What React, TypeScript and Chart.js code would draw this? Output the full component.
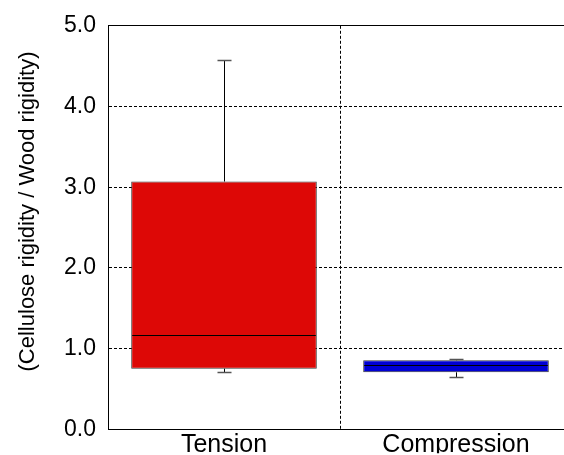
import React, { useEffect, useRef } from 'react';
import { Chart, registerables } from 'chart.js';

Chart.register(...registerables);

// ---- data ----
const categories = ['Tension', 'Compression'];
const whiskerLow = [0.71, 0.65];
const quartile1 = [0.75, 0.705];
const medians = [1.17, 0.79];
const quartile3 = [3.07, 0.855];
const whiskerHigh = [4.58, 0.87];
const boxColors = ['#DD0806', '#0000D4'];
const yTitle = '(Cellulose rigidity / Wood rigidity)';
const yMin = 0;
const yMax = 5;
const yStep = 1;

const FONT = '"Liberation Sans", Arial, Helvetica, sans-serif';

const whiskerPlugin = {
  id: 'whiskers',
  afterDatasetsDraw(chart: any) {
    const { ctx } = chart;
    const x = chart.scales.x;
    const y = chart.scales.y;
    const meta = chart.getDatasetMeta(0);
    ctx.save();
    meta.data.forEach((el: any, i: number) => {
      const cx = Math.round(x.getPixelForValue(i + 1)) + 0.5;
      const half = el.width / 2;
      const yMed = Math.round(y.getPixelForValue(medians[i])) + 0.5;
      const yQ1 = y.getPixelForValue(quartile1[i]);
      const yQ3 = y.getPixelForValue(quartile3[i]);
      const yLo = Math.round(y.getPixelForValue(whiskerLow[i])) + 0.5;
      const yHi = Math.round(y.getPixelForValue(whiskerHigh[i])) + 0.5;
      ctx.strokeStyle = '#000';
      ctx.lineWidth = 1;
      ctx.beginPath();
      ctx.moveTo(el.x - half + 1, yMed);
      ctx.lineTo(el.x + half - 1, yMed);
      ctx.moveTo(cx, yQ3);
      ctx.lineTo(cx, yHi);
      ctx.moveTo(cx, yQ1);
      ctx.lineTo(cx, yLo);
      ctx.stroke();
      ctx.strokeStyle = '#555';
      ctx.lineWidth = 1.5;
      ctx.beginPath();
      ctx.moveTo(cx - 7, yHi);
      ctx.lineTo(cx + 7, yHi);
      ctx.moveTo(cx - 7, yLo);
      ctx.lineTo(cx + 7, yLo);
      ctx.stroke();
    });
    ctx.restore();
  },
};

const titlePlugin = {
  id: 'yTitle',
  afterDraw(chart: any) {
    const { ctx, chartArea } = chart;
    ctx.save();
    ctx.font = `22px ${FONT}`;
    ctx.fillStyle = '#000';
    ctx.textAlign = 'center';
    ctx.textBaseline = 'middle';
    ctx.translate(28, (chartArea.top + chartArea.bottom) / 2 - 16);
    ctx.rotate(-Math.PI / 2);
    ctx.fillText(yTitle, 0, 0);
    ctx.restore();
  },
};

export default function App() {
  const ref = useRef<HTMLCanvasElement | null>(null);

  useEffect(() => {
    if (!ref.current) return;
    const chart = new Chart(ref.current, {
      type: 'bar',
      data: {
        datasets: [
          {
            data: categories.map((_, i) => ({ x: i + 1, y: [quartile1[i], quartile3[i]] })) as any,
            backgroundColor: boxColors,
            borderColor: '#3a3a3a',
            borderWidth: 1,
            borderSkipped: false,
            categoryPercentage: 1,
            barPercentage: 0.8,
          },
        ],
      },
      options: {
        animation: false,
        responsive: false,
        events: [],
        layout: { padding: { top: 22, left: 0, right: 0, bottom: 0 } },
        plugins: {
          legend: { display: false },
          tooltip: { enabled: false },
        },
        scales: {
          x: {
            type: 'linear',
            offset: false,
            min: 0.5,
            max: 0.5 + 456 / 232,
            afterBuildTicks: (scale: any) => {
              scale.ticks = categories.map((_, i) => ({ value: i + 1 }));
            },
            afterFit: (scale: any) => {
              scale.height = 24;
            },
            ticks: {
              color: '#000',
              padding: 1,
              autoSkip: false,
              maxRotation: 0,
              font: { family: FONT, size: 25 },
              callback: (v: any) => categories[Number(v) - 1] ?? '',
            },
            grid: {
              offset: true,
              drawTicks: false,
              color: (c: any) => (c.index === 1 ? '#000' : 'rgba(0,0,0,0)'),
              lineWidth: 1,
            },
            border: { display: true, color: '#000', width: 1, dash: [3, 2] },
          },
          y: {
            min: yMin,
            max: yMax,
            afterFit: (scale: any) => {
              scale.width = 108;
            },
            ticks: {
              stepSize: yStep,
              color: '#000',
              padding: 12,
              font: { family: FONT, size: 23 },
              callback: (v: any) => Number(v).toFixed(1),
            },
            grid: {
              drawTicks: false,
              color: '#000',
              lineWidth: 1,
            },
            border: {
              display: true,
              color: '#000',
              width: 1,
              dash: (c: any) => (c.tick && c.tick.value === yMax ? [] : [3, 2]),
            },
          },
        },
      },
      plugins: [whiskerPlugin, titlePlugin],
    } as any);
    return () => chart.destroy();
  }, []);

  return (
    <div style={{ position: 'absolute', left: 0, top: 0, width: 564, height: 455, background: '#fff' }}>
      <canvas ref={ref} width={564} height={455} />
    </div>
  );
}
